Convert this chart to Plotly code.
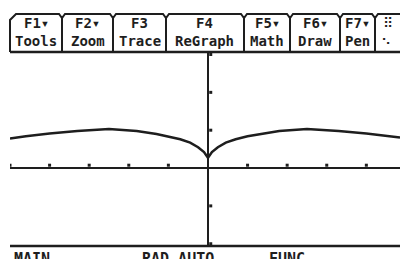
import plotly.graph_objects as go

# Curve values (symmetric cusp-shaped function)
curve_x = [-5.0, -4.6, -4.0, -3.3, -2.5, -1.8, -1.3, -1.0, -0.7, -0.45, -0.25, -0.1, 0.0,
           0.1, 0.25, 0.45, 0.7, 1.0, 1.3, 1.8, 2.5, 3.3, 4.0, 4.6, 4.85]
curve_y = [0.78, 0.84, 0.91, 0.98, 1.03, 0.98, 0.90, 0.84, 0.76, 0.67, 0.55, 0.42, 0.27,
           0.42, 0.55, 0.67, 0.76, 0.84, 0.90, 0.98, 1.03, 0.98, 0.91, 0.84, 0.81]

x_ticks = [-5, -4, -3, -2, -1, 1, 2, 3, 4]
y_ticks = [-2, -1, 1, 2, 3]

menu_top = ["F1▾", "F2▾", "F3", "F4", "F5▾", "F6▾", "F7▾"]
menu_bottom = ["Tools", "Zoom", "Trace", "ReGraph", "Math", "Draw", "Pen"]
status_labels = ["MAIN", "RAD AUTO", "FUNC"]

INK = "#1e1e1e"
W, H = 400, 259


def px(x):
    return x / W


def py(y):
    return 1 - y / H


fig = go.Figure()

fig.add_trace(go.Scatter(x=curve_x, y=curve_y, mode="lines",
                         line=dict(color=INK, width=2.5), hoverinfo="skip"))
fig.add_trace(go.Scatter(x=x_ticks, y=[0.075] * len(x_ticks), mode="markers",
                         marker=dict(symbol="square", size=3, color=INK), hoverinfo="skip"))
fig.add_trace(go.Scatter(x=[0.07] * len(y_ticks), y=y_ticks, mode="markers",
                         marker=dict(symbol="square", size=3, color=INK), hoverinfo="skip"))

shapes = []
# toolbar outline
seps = [62, 113, 166, 244, 290, 340, 375]
path = f"M {px(10)},{py(52)} L {px(10)},{py(20)} L {px(16)},{py(14)} "
for s in seps:
    path += f"L {px(s-3)},{py(14)} L {px(s)},{py(18)} L {px(s+3)},{py(14)} "
path += f"L {px(400)},{py(14)}"
shapes.append(dict(type="path", xref="paper", yref="paper", path=path,
                   line=dict(color=INK, width=2)))
for s in seps:
    shapes.append(dict(type="line", xref="paper", yref="paper",
                       x0=px(s), x1=px(s), y0=py(18), y1=py(52),
                       line=dict(color=INK, width=2)))
shapes.append(dict(type="line", xref="paper", yref="paper",
                   x0=px(10), x1=px(400), y0=py(52), y1=py(52),
                   line=dict(color=INK, width=2.5)))
# status separator line
shapes.append(dict(type="line", xref="paper", yref="paper",
                   x0=px(10), x1=px(400), y0=py(246), y1=py(246),
                   line=dict(color=INK, width=2.5)))

annotations = []
edges = [10] + seps
for i, (t, b) in enumerate(zip(menu_top, menu_bottom)):
    cx = (edges[i] + edges[i + 1]) / 2
    annotations.append(dict(x=px(cx), y=py(23), xref="paper", yref="paper",
                            text=f"<b>{t}</b>", showarrow=False, xanchor="center", yanchor="middle",
                            font=dict(family="DejaVu Sans Mono", size=14, color=INK)))
    annotations.append(dict(x=px(cx), y=py(41), xref="paper", yref="paper",
                            text=f"<b>{b}</b>", showarrow=False, xanchor="center", yanchor="middle",
                            font=dict(family="DejaVu Sans Mono", size=14, color=INK)))
annotations.append(dict(x=px(388), y=py(23), xref="paper", yref="paper", text="⠿",
                        showarrow=False, xanchor="center", yanchor="middle",
                        font=dict(family="DejaVu Sans", size=14, color=INK)))
annotations.append(dict(x=px(386), y=py(40), xref="paper", yref="paper", text="⠢",
                        showarrow=False, xanchor="center", yanchor="middle",
                        font=dict(family="DejaVu Sans", size=14, color=INK)))
for lab, x0 in zip(status_labels, [12, 140, 267]):
    annotations.append(dict(x=px(x0), y=py(248), xref="paper", yref="paper",
                            text=f"<b>{lab}</b>", showarrow=False, xanchor="left", yanchor="top",
                            font=dict(family="DejaVu Sans Mono", size=15, color=INK)))

fig.update_layout(
    width=W, height=H, margin=dict(l=0, r=0, t=0, b=0),
    paper_bgcolor="white", plot_bgcolor="white", showlegend=False,
    xaxis=dict(domain=[px(10), 1], range=[-5, 4.85], showgrid=False, showticklabels=False,
               ticks="", zeroline=True, zerolinecolor=INK, zerolinewidth=2.5, fixedrange=True),
    yaxis=dict(domain=[py(246), py(53)], range=[-2.06, 3.04], showgrid=False,
               showticklabels=False, ticks="", zeroline=True, zerolinecolor=INK,
               zerolinewidth=2.5, fixedrange=True),
    shapes=shapes, annotations=annotations,
)

fig.write_html("out.html", config={"displayModeBar": False, "staticPlot": True},
               post_script="document.body.style.margin='0';document.body.style.overflow='hidden';")
